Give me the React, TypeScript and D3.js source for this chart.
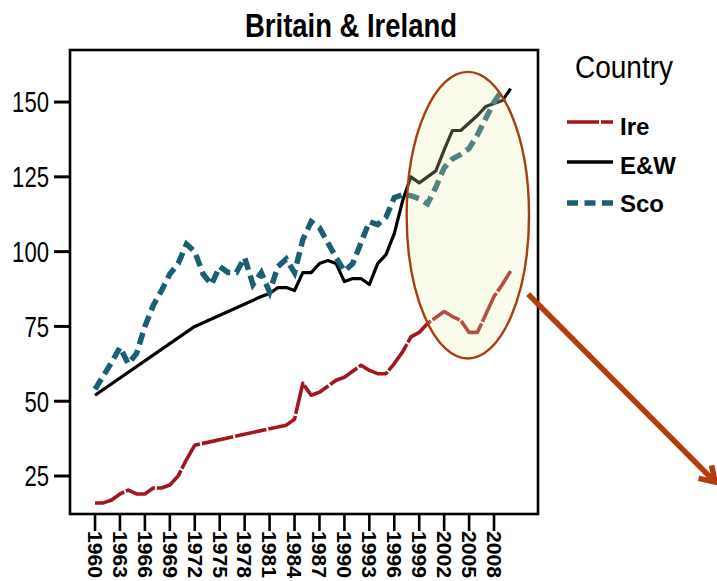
import React from "react";
import * as d3 from "d3";

const years: number[] = d3.range(1960, 2011);

// null = no observation (line drawn straight across)
const ire: (number | null)[] = [
  16, 16, 17, 19, 20.3, 19, 19, 21, 21, 22, // 1960-1969
  25, 30.5, 35.3, null, null, null, null, null, null, null, // 1970-1979
  null, null, null, 42, 44, 56, 52, 53, 55, 57, // 1980-1989
  58, 60, 62, 60.3, 59.2, 59.2, 62.6, 66.5, 71.5, 73, // 1990-1999
  76, 78, 80, 78.3, 77, 73, 73, 79, 85, 89, // 2000-2009
  93.5, // 2010
];

const ew: (number | null)[] = [
  52, null, null, null, null, null, null, null, null, null,
  null, null, 75, null, null, null, null, null, null, null,
  85, 86, 88, 88, 87, 93, 93, 96, 97, 96,
  90, 91, 91, 89, 96, 99, 106, 117, 125, 123,
  125, 127, 134, 140.5, 140.5, 143, 145.5, 148.5, 149.5, 150.5,
  154.5,
];

const sco: (number | null)[] = [
  54, 58.5, 63, 68, 62.5, 66, 75, 82, 87, 92.5,
  96, 102.5, 100, 92.5, 89, 95, 93, 93, 98, 89,
  93, 86.5, 95, 97.5, 93, 104, 110, 108, 103, 98,
  93.5, 96, 103, 110, 109, 111.5, 118, 119, 118.7, 117.7,
  116, 121.5, 128, 131, 132.5, 134.5, 139, 144.5, 150, 154,
  null,
];

const xTicks: number[] = d3.range(1960, 2009, 3);
const yTicks: number[] = [25, 50, 75, 100, 125, 150];

const legendLabels = ["Ire", "E&W", "Sco"];
const legendColors = ["#a3161e", "#000000", "#1c5f74"];

const FONT = "'Liberation Sans', Arial, sans-serif";

export default function App() {
  const W = 717, H = 581;
  const left = 70, right = 538, top = 50, bottom = 514;
  const x = d3.scaleLinear().domain([1956.99, 2013.29]).range([left, right]);
  const y = d3.scaleLinear().domain([12.3, 167.4]).range([bottom, top]);

  const mk = (vals: (number | null)[]) => {
    const pts = years
      .map((yr, i) => [yr, vals[i]] as [number, number | null])
      .filter((p) => p[1] !== null) as [number, number][];
    return d3
      .line<[number, number]>()
      .x((p) => x(p[0]))
      .y((p) => y(p[1]))(pts) as string;
  };

  // annotation in data coordinates
  const ellCx = x(2004.85), ellCy = y(112.2);
  const ellRx = x(2004.85 + 7.36) - x(2004.85);
  const ellRy = y(112.2 - 47.9) - y(112.2);

  const a0 = [x(2012.1), y(85.8)];
  const a1 = [x(2034.6), y(23)];
  const ang = Math.atan2(a1[1] - a0[1], a1[0] - a0[0]);
  const headLen = 17, headAng = Math.PI / 5.5;
  const h1 = [a1[0] - headLen * Math.cos(ang - headAng), a1[1] - headLen * Math.sin(ang - headAng)];
  const h2 = [a1[0] - headLen * Math.cos(ang + headAng), a1[1] - headLen * Math.sin(ang + headAng)];

  const legendY = [122, 162, 203];
  const legendTextY = [135, 174, 212];

  return (
    <svg width={W} height={H} style={{ position: "absolute", left: 0, top: 0, background: "#fff" }} fontFamily={FONT}>
      <rect x={0} y={0} width={W} height={H} fill="#fff" />
      <text x={351} y={37} textAnchor="middle" fontSize={33} fontWeight="bold" textLength={212} lengthAdjust="spacingAndGlyphs">
        Britain &amp; Ireland
      </text>

      {/* lines */}
      <path d={mk(ire)} fill="none" stroke={legendColors[0]} strokeWidth={3.6} strokeDasharray="32,2" strokeLinejoin="round" />
      <path d={mk(ew)} fill="none" stroke={legendColors[1]} strokeWidth={3.2} strokeLinejoin="round" />
      <path d={mk(sco)} fill="none" stroke={legendColors[2]} strokeWidth={5.5} strokeDasharray="12,6" />

      {/* frame */}
      <rect x={left} y={top} width={right - left} height={bottom - top} fill="none" stroke="#000" strokeWidth={2.6} />

      {/* y axis */}
      {yTicks.map((t) => (
        <g key={t}>
          <line x1={left - 16} x2={left} y1={y(t)} y2={y(t)} stroke="#000" strokeWidth={3} />
          <text x={49} y={y(t)} dy="0.36em" textAnchor="end" fontSize={29} textLength={String(t).length * 12.3} lengthAdjust="spacingAndGlyphs">
            {t}
          </text>
        </g>
      ))}

      {/* x axis */}
      {xTicks.map((t) => (
        <g key={t}>
          <line x1={x(t)} x2={x(t)} y1={bottom} y2={bottom + 17} stroke="#000" strokeWidth={2.6} />
          <text transform={`translate(${x(t)},${bottom + 17}) rotate(90)`} dy="0.36em" fontSize={20} fontWeight="bold" textLength={47} lengthAdjust="spacingAndGlyphs">
            {t}
          </text>
        </g>
      ))}

      {/* highlight ellipse */}
      <ellipse cx={ellCx} cy={ellCy} rx={ellRx} ry={ellRy} fill="rgb(240,240,176)" fillOpacity={0.25} stroke="#a83c12" strokeWidth={2.4} />

      {/* arrow */}
      <g stroke="#b53a0c" strokeWidth={5.5} strokeLinecap="butt" fill="none">
        <line x1={a0[0]} y1={a0[1]} x2={a1[0]} y2={a1[1]} />
        <polyline points={`${h1[0]},${h1[1]} ${a1[0]},${a1[1]} ${h2[0]},${h2[1]}`} strokeLinejoin="miter" />
      </g>

      {/* legend */}
      <text x={575} y={78} fontSize={32} textLength={98} lengthAdjust="spacingAndGlyphs">Country</text>
      {legendLabels.map((l, i) => (
        <g key={l}>
          <line
            x1={567}
            x2={613}
            y1={legendY[i]}
            y2={legendY[i]}
            stroke={legendColors[i]}
            strokeWidth={i === 2 ? 5.5 : 3.6}
            strokeDasharray={i === 0 ? "32,2" : i === 2 ? "11,6.5" : undefined}
          />
          <text x={620} y={legendTextY[i]} fontSize={24} fontWeight="bold">{l}</text>
        </g>
      ))}
    </svg>
  );
}
